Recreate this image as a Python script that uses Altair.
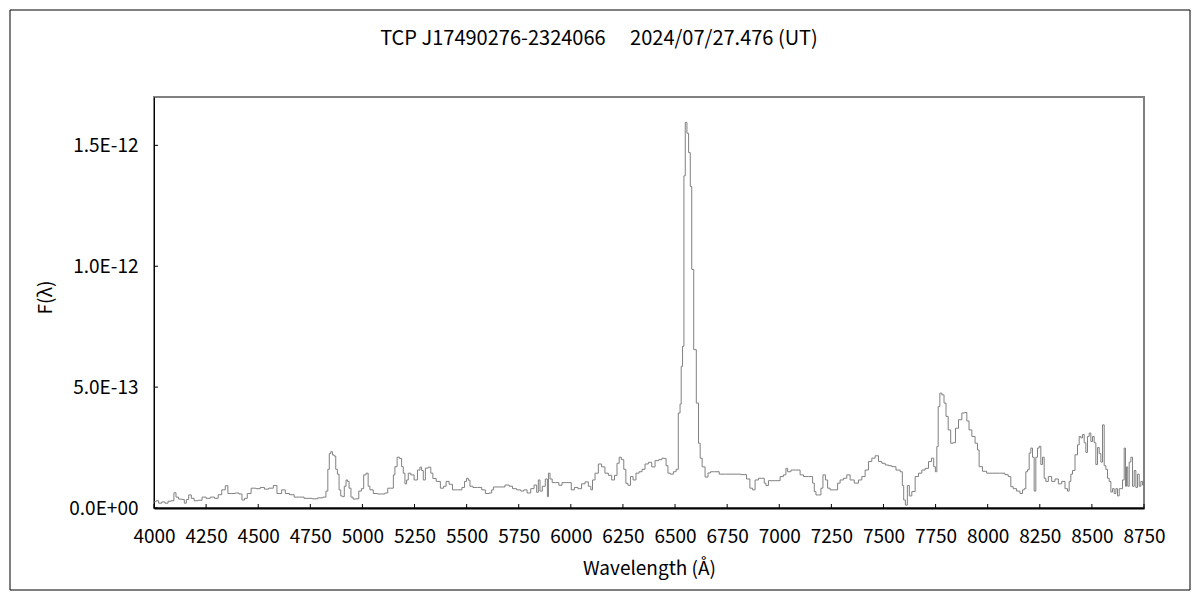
import altair as alt
import pandas as pd

# ---------------- data ----------------
wavelength = [
    4000, 4005, 4015, 4029, 4045, 4060, 4075, 4090, 4101, 4110, 4125, 4141, 4150, 4160, 4173, 4185,
    4200, 4221, 4240, 4260, 4280, 4301, 4315, 4335, 4349, 4360, 4381, 4400, 4415, 4429, 4440, 4455,
    4477, 4500, 4520, 4540, 4560, 4585, 4595, 4605, 4620, 4640, 4660, 4685, 4710, 4730, 4748, 4770,
    4800, 4820, 4830, 4838, 4844, 4852, 4860, 4868, 4876, 4884, 4892, 4900, 4908, 4918, 4925, 4932,
    4940, 4950, 4960, 4975, 4990, 5000, 5012, 5023, 5032, 5040, 5064, 5080, 5100, 5115, 5128, 5145,
    5152, 5160, 5173, 5184, 5192, 5200, 5208, 5216, 5224, 5240, 5256, 5272, 5280, 5288, 5296, 5308,
    5324, 5332, 5344, 5364, 5384, 5395, 5408, 5424, 5440, 5470, 5485, 5495, 5504, 5512, 5520, 5540,
    5565, 5580, 5600, 5615, 5625, 5632, 5672, 5696, 5712, 5728, 5752, 5768, 5780, 5800, 5815, 5832,
    5840, 5848, 5856, 5870, 5885, 5890, 5895, 5905, 5916, 5935, 5950, 5965, 5995, 6009, 6025, 6043,
    6060, 6076, 6092, 6100, 6108, 6124, 6140, 6155, 6172, 6188, 6204, 6215, 6228, 6236, 6248, 6260,
    6268, 6280, 6292, 6305, 6320, 6335, 6348, 6364, 6380, 6396, 6412, 6430, 6444, 6452, 6462, 6470,
    6484, 6500, 6510, 6521, 6527, 6532, 6540, 6545, 6553, 6561, 6569, 6577, 6583, 6596, 6608, 6617,
    6624, 6636, 6652, 6664, 6676, 6700, 6724, 6760, 6796, 6836, 6850, 6868, 6876, 6892, 6908, 6924,
    6932, 6940, 6956, 6996, 7012, 7028, 7036, 7044, 7068, 7092, 7108, 7124, 7156, 7164, 7172, 7180,
    7196, 7204, 7215, 7228, 7236, 7252, 7276, 7284, 7300, 7316, 7332, 7348, 7372, 7388, 7404, 7420,
    7436, 7452, 7468, 7484, 7500, 7516, 7532, 7548, 7572, 7588, 7593, 7601, 7609, 7620, 7628, 7644,
    7660, 7676, 7692, 7708, 7724, 7737, 7745, 7753, 7759, 7766, 7775, 7785, 7796, 7804, 7817, 7828,
    7839, 7852, 7868, 7884, 7895, 7905, 7916, 7932, 7947, 7955, 7963, 7987, 8003, 8040, 8075, 8090,
    8107, 8115, 8130, 8147, 8163, 8171, 8179, 8187, 8195, 8203, 8211, 8219, 8227, 8235, 8243, 8251,
    8259, 8267, 8275, 8283, 8299, 8315, 8331, 8347, 8363, 8379, 8387, 8395, 8403, 8411, 8427, 8435,
    8443, 8451, 8459, 8467, 8475, 8483, 8491, 8499, 8507, 8515, 8523, 8531, 8539, 8547, 8555, 8563,
    8571, 8579, 8587, 8595, 8603, 8611, 8619, 8627, 8635, 8643, 8651, 8659, 8663, 8669, 8675, 8683,
    8691, 8699, 8707, 8715, 8723, 8731, 8739, 8747, 8750,
]

# flux in units of 1e-13 erg/s/cm2/A
flux_e13 = [
    0.25, 0.26, 0.30, 0.20, 0.25, 0.20, 0.28, 0.30, 0.63, 0.45, 0.37, 0.35, 0.20, 0.35, 0.54, 0.40,
    0.30, 0.32, 0.45, 0.40, 0.45, 0.40, 0.55, 0.75, 0.92, 0.60, 0.60, 0.62, 0.58, 0.33, 0.40, 0.60,
    0.82, 0.80, 0.85, 0.78, 0.82, 0.93, 0.60, 0.60, 0.75, 0.60, 0.55, 0.45, 0.45, 0.40, 0.40, 0.38,
    0.42, 0.45, 0.70, 1.60, 2.25, 2.33, 2.20, 2.15, 1.60, 1.40, 0.75, 0.50, 0.47, 0.90, 1.16, 1.10,
    0.82, 0.45, 0.37, 0.38, 0.70, 0.80, 1.37, 1.44, 0.90, 0.75, 0.60, 0.58, 0.58, 0.62, 0.82, 0.82,
    1.37, 1.71, 2.10, 2.05, 1.71, 1.44, 1.00, 1.16, 1.44, 1.37, 1.16, 1.57, 1.69, 1.55, 1.16, 1.65,
    1.69, 1.44, 1.22, 1.10, 0.82, 0.90, 1.10, 0.98, 0.75, 0.75, 0.85, 1.10, 1.23, 1.15, 0.90, 0.85,
    0.85, 0.75, 0.60, 0.62, 0.75, 0.87, 0.87, 0.95, 0.90, 0.80, 0.75, 0.70, 0.75, 0.62, 0.80, 0.95,
    0.65, 1.16, 0.70, 0.90, 1.20, 0.47, 1.44, 1.20, 1.05, 1.05, 0.94, 1.05, 1.05, 0.75, 0.85, 0.80,
    1.00, 1.08, 0.90, 0.75, 1.16, 1.44, 1.82, 1.70, 1.44, 1.35, 1.16, 1.35, 1.85, 2.10, 2.00, 1.60,
    1.02, 0.94, 1.30, 1.16, 1.44, 1.50, 1.60, 1.82, 1.89, 1.70, 1.96, 2.00, 2.06, 2.05, 1.75, 1.44,
    1.40, 1.50, 1.60, 3.93, 4.30, 5.86, 6.69, 13.74, 15.95, 15.50, 14.70, 13.30, 9.87, 6.55, 4.34, 2.68,
    2.06, 1.70, 1.28, 1.45, 1.50, 1.50, 1.40, 1.40, 1.40, 1.38, 1.20, 0.82, 0.75, 1.16, 1.23, 1.23,
    1.03, 0.93, 1.13, 1.13, 1.30, 1.37, 1.64, 1.50, 1.57, 1.57, 1.37, 1.30, 1.30, 1.03, 0.68, 0.54,
    0.54, 0.82, 1.37, 1.16, 0.82, 0.75, 0.75, 1.03, 1.16, 1.23, 1.37, 1.16, 1.03, 1.16, 1.30, 1.57,
    1.92, 2.06, 2.16, 1.92, 1.85, 1.78, 1.75, 1.71, 1.57, 1.50, 0.93, 0.33, 0.12, 0.93, 0.50, 0.68,
    1.30, 1.44, 1.57, 1.64, 1.92, 2.06, 1.71, 1.50, 2.54, 4.20, 4.75, 4.68, 4.34, 3.79, 3.23, 2.68,
    2.70, 3.30, 3.65, 3.93, 3.95, 3.60, 3.23, 2.96, 2.68, 2.40, 1.71, 1.52, 1.44, 1.44, 1.44, 1.38,
    1.30, 0.88, 0.80, 0.70, 0.60, 0.75, 0.80, 1.50, 1.58, 2.27, 2.48, 2.10, 0.70, 2.10, 2.48, 2.55,
    1.80, 2.10, 1.23, 1.10, 1.30, 1.10, 1.20, 1.00, 1.10, 0.80, 0.70, 1.10, 1.40, 1.55, 2.20, 2.61,
    2.96, 2.90, 3.04, 2.70, 2.30, 2.96, 3.10, 2.75, 2.96, 2.70, 1.80, 2.50, 2.25, 1.90, 3.44, 1.75,
    1.60, 1.23, 1.10, 0.66, 0.80, 0.60, 0.80, 0.50, 0.80, 0.80, 1.16, 2.48, 0.90, 1.70, 0.90, 1.90,
    2.10, 0.90, 1.55, 0.85, 1.40, 0.90, 1.10, 0.95, 1.00,
]

x_ticks = [4000, 4250, 4500, 4750, 5000, 5250, 5500, 5750, 6000, 6250,
           6500, 6750, 7000, 7250, 7500, 7750, 8000, 8250, 8500, 8750]
y_ticks = [0.0, 5e-13, 1e-12, 1.5e-12]
title_text = "TCP J17490276-2324066\u3000 2024/07/27.476 (UT)"
x_title = "Wavelength (Å)"
y_title = "F(λ)"

FONT = "Noto Sans CJK JP"
FS = 19

df = pd.DataFrame({"wl": wavelength, "F": [v * 1e-13 for v in flux_e13]})
xt = pd.DataFrame({"wl": x_ticks})
yt = pd.DataFrame({"F": y_ticks})

W, H = 990, 411
xscale = alt.Scale(domain=[4000, 8750], nice=False, zero=False)
yscale = alt.Scale(domain=[0, 1.7e-12], nice=False)

xaxis = alt.Axis(values=x_ticks, ticks=False, grid=False, format="d",
                 labelOverlap=False, labelFlush=False,
                 labelPadding=19, labelFontSize=FS, labelFont=FONT, labelColor="#000000",
                 domainColor="#000000", domainWidth=2,
                 title=x_title, titleFont=FONT, titleFontSize=FS, titleFontWeight="normal",
                 titleColor="#000000", titleY=60, titleBaseline="middle")
yaxis = alt.Axis(values=y_ticks, ticks=False, grid=False, labelOverlap=False,
                 labelExpr="datum.value == 0 ? '0.0E+00' : upper(format(datum.value, '.1e'))",
                 labelPadding=16, labelFontSize=FS, labelFont=FONT, labelColor="#000000",
                 domainColor="#000000", domainWidth=1,
                 title=y_title, titleFont=FONT, titleFontSize=FS, titleFontWeight="normal",
                 titleColor="#000000", titleX=-109, titleY=200, titleAngle=-90,
                 titleBaseline="middle", titleAlign="center")

line = alt.Chart(df).mark_line(color="#808080", strokeWidth=1, interpolate="step").encode(
    x=alt.X("wl:Q", scale=xscale, axis=xaxis),
    y=alt.Y("F:Q", scale=yscale, axis=yaxis),
)

xtick_marks = alt.Chart(xt).mark_rule(color="#000000", strokeWidth=1).encode(
    x=alt.X("wl:Q", scale=xscale),
    y=alt.value(H - 4),
    y2=alt.value(H),
)
ytick_marks = alt.Chart(yt).mark_rule(color="#000000", strokeWidth=1).encode(
    y=alt.Y("F:Q", scale=yscale),
    x=alt.value(0),
    x2=alt.value(4),
)

# outer frame around the whole figure (decoration)
frame = alt.Chart(pd.DataFrame({"a": [0]})).mark_rect(
    fill=None, stroke="#000000", strokeWidth=1
).encode(
    x=alt.value(-144), x2=alt.value(1036), y=alt.value(-87), y2=alt.value(493)
)

# chart title, centred on the whole figure
title = alt.Chart(pd.DataFrame({"t": [title_text]})).mark_text(
    font=FONT, fontSize=20, color="#000000", align="center", baseline="middle"
).encode(
    text="t:N", x=alt.value(445), y=alt.value(-58)
)

chart = alt.layer(frame, line, xtick_marks, ytick_marks, title).properties(
    width=W, height=H,
    autosize=alt.AutoSizeParams(type="none"),
    padding={"left": 146, "top": 89, "right": 48, "bottom": 84},
).configure(
    background="#ffffff"
).configure_view(
    stroke="#808080", strokeWidth=2
)

chart.save("out.html", embed_options={"renderer": "svg", "actions": False})
